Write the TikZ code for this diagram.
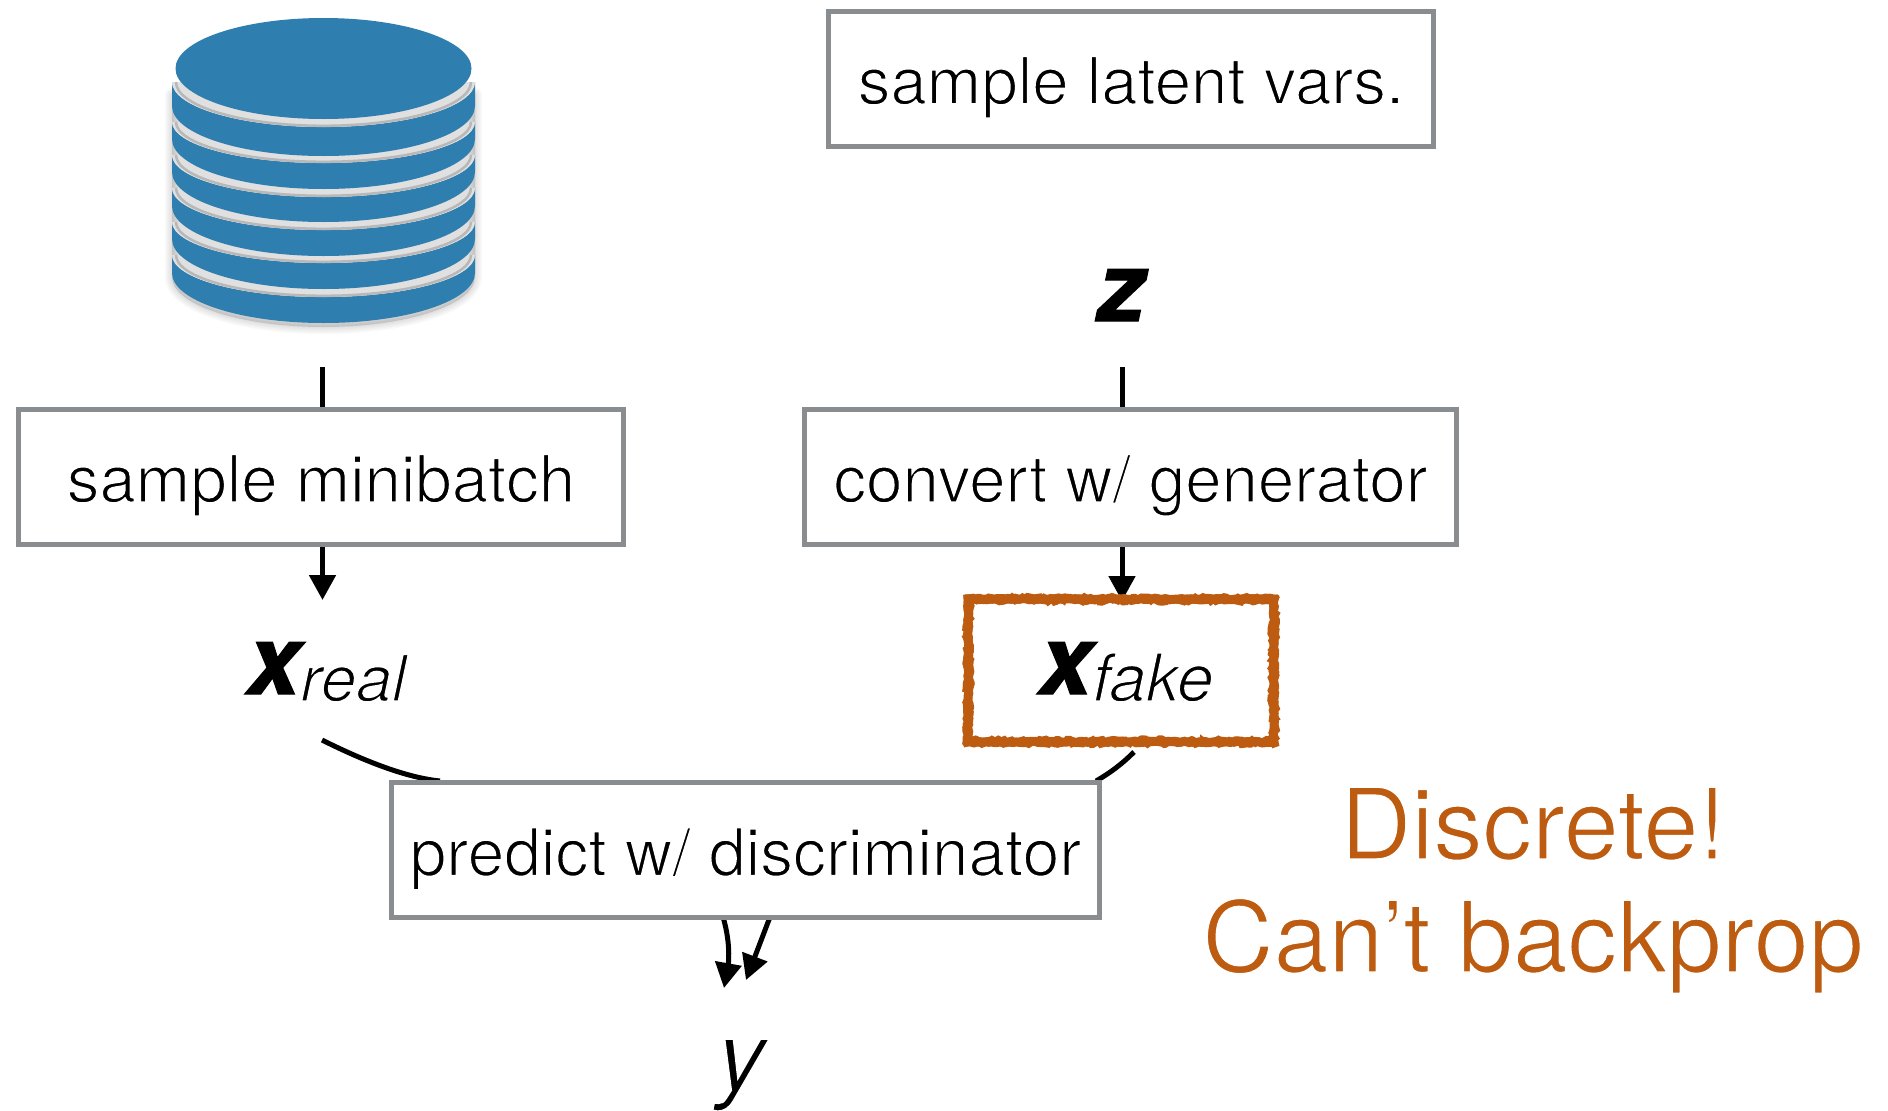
\documentclass[tikz,border=0pt]{standalone}
\usepackage{fontspec}
\setmainfont{TeX Gyre Heros}
\newfontfamily\heavyfam[BoldItalicFeatures={FakeBold=1.2}]{TeX Gyre Heros}
\usetikzlibrary{arrows.meta,decorations.pathmorphing,backgrounds}
\definecolor{dbblue}{HTML}{2F7EB0}
\definecolor{boxgray}{HTML}{8A8D90}
\definecolor{burnt}{HTML}{BD5C10}
% lighter look: glyphs are thinned with a white outline
\newcommand{\lightt}[2][1.5]{\special{pdf:code q 2 Tr #1 w 1 1 1 RG}#2\special{pdf:code Q}}
\newcommand{\bigx}[1]{{\fontsize{96}{110}\selectfont\heavyfam\bfseries\itshape #1}}
\newcommand{\subt}[2]{\raisebox{-7pt}{\fontsize{#1}{70}\selectfont\itshape\lightt{#2}}}
\tikzset{
  x=1pt,y=-1pt,
  boxnode/.style={draw=boxgray,line width=5pt,fill=white,inner sep=0pt,outer sep=0pt,
    text height=60pt,text depth=9pt,font=\fontsize{65.3}{78}\selectfont},
  conn/.style={black,line width=5pt},
  arr/.style={conn,-{Triangle[width=26pt,length=25pt]}},
  lab/.style={inner sep=0pt,outer sep=0pt,anchor=base west},
  fakebox/.style={fill=white,inner sep=0pt,outer sep=0pt,minimum width=306pt,minimum height=144pt,
    text height=60pt,text depth=9pt},
  rough/.style={draw=burnt,line width=#1,line join=miter,decorate},
  warn/.style={inner sep=0pt,text=burnt,anchor=base,font=\fontsize{98.6}{110}\selectfont},
}
\begin{document}
\begin{tikzpicture}
\useasboundingbox (0,0) rectangle (1888,1111);
\begin{scope}[on background layer]
  \fill[white] (0,0) rectangle (1888,1111);
\end{scope}
% database
\foreach \i in {1,...,6}{
  \draw[black,opacity=.018,line width=\i*2.4pt,line join=round,fill=black,fill opacity=.02]
    (172,95) -- (172,277) arc[start angle=180,end angle=360,x radius=151.5pt,y radius=50pt] -- (475,95) -- cycle;
}
\foreach \t/\b/\r in {255/323/42,222/289/41,188/256/42,155/222/42,122/189/41,82/156/45}{
  \pgfmathsetmacro{\yc}{\b-50}
  \fill[dbblue] (172,\t) -- (172,\yc) arc[start angle=180,end angle=360,x radius=151.5pt,y radius=50pt]
     -- (475,\t) arc[start angle=0,end angle=-180,x radius=151.5pt,y radius=\r pt] -- cycle;
  \fill[white!88!black] (172,\t) arc[start angle=180,end angle=360,x radius=151.5pt,y radius=\r pt] -- cycle;
  \draw[white!72!black,line width=2.5pt] (176,\t) arc[start angle=180,end angle=360,x radius=147.5pt,y radius=\r pt-1.2pt];
}
\fill[dbblue] (323.5,68.5) ellipse[x radius=148pt,y radius=50.5pt];

% boxes
\node[boxnode,minimum width=605pt,minimum height=135pt] (latent) at (1131,78.5) {\lightt{sample latent vars.}};
\node[boxnode,minimum width=605pt,minimum height=135pt] (mini) at (321,476.5) {\lightt{sample minibatch}};
\node[boxnode,minimum width=652pt,minimum height=135pt] (gen) at (1130.5,476.5) {\lightt{convert w/ generator}};
\node[boxnode,minimum width=708pt,minimum height=135pt,font=\fontsize{65.8}{78}\selectfont] (disc) at (745.5,850) {\lightt{predict w/ discriminator}};

% variables
\node[lab] (z) at (1097,321) {\bigx{z}};
\node[lab] (xreal) at (247,694) {\bigx{x}\subt{64}{real}};
\node[fakebox] (xfake) at (1121,670) {};
\pgfmathsetseed{7}
\draw[rough=9pt,decoration={random steps,segment length=3.5pt,amplitude=0.8pt}] (968,599) rectangle (1274,742);
\draw[rough=3pt,decoration={random steps,segment length=3pt,amplitude=1.6pt}] (965,596) rectangle (1277,745);
\draw[rough=3pt,decoration={random steps,segment length=3pt,amplitude=1.8pt}] (971.5,602.5) rectangle (1270.5,738.5);
\node[lab] (xfaketext) at (1039,694) {\bigx{x}\subt{66}{fake}};
\node[inner sep=0pt,anchor=base] (y) at (741,1090) {\fontsize{97}{110}\selectfont\itshape\lightt{y}};

% warning
\node[warn] (disc1) at (1533,859) {\lightt{Discrete!}};
\node[warn] (disc2) at (1533,972) {\lightt{Can’t backprop}};

% connectors
\coordinate (dbout) at (322.5,367);
\coordinate (zout) at (1122,367);
\coordinate (realout) at (322,740);
\coordinate (realin) at (440,781);
\coordinate (fakeout) at (1134,752);
\coordinate (fakein) at (1096,781);
\coordinate (disca) at (723,917);
\coordinate (tipa) at (724,988);
\coordinate (discb) at (770,917);
\coordinate (tipb) at (746,980);
\coordinate (minout) at (322.5,545);
\coordinate (minin) at (322.5,600);
\coordinate (genout) at (1122,545);
\coordinate (genin) at (1122,601);
\begin{scope}[on background layer]
  \draw[conn] (dbout) -- (dbout |- mini.north);
  \draw[conn] (zout) -- (zout |- gen.north);
  \draw[arr] (minout) -- (minin);
  \draw[arr] (genout) -- (genin);
  \draw[conn] (realout) .. controls (370,764) and (410,778) .. (realin);
  \draw[conn] (fakeout) .. controls (1122,764) and (1110,773) .. (fakein);
  \draw[arr] (disca) .. controls (730,940) and (729,960) .. (tipa);
  \draw[arr] (discb) -- (tipb);
\end{scope}
\end{tikzpicture}
\end{document}
